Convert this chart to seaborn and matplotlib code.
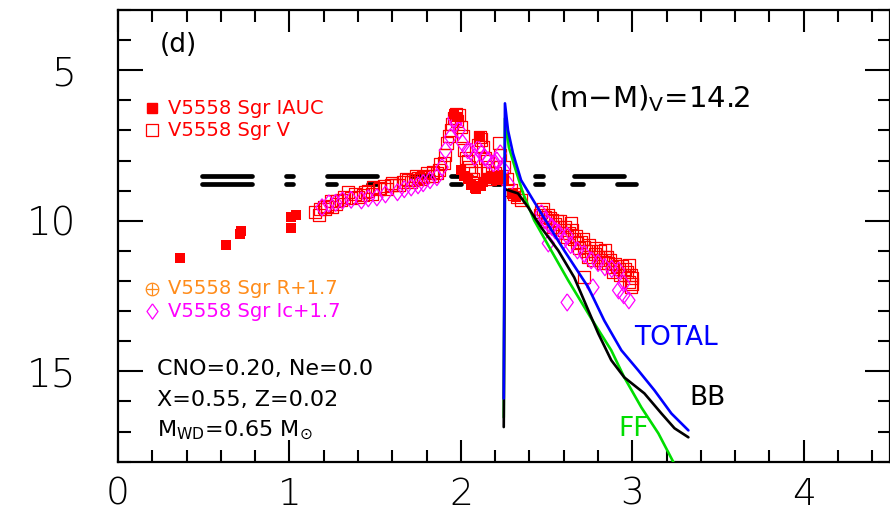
import numpy as np
import pandas as pd
import matplotlib
matplotlib.use("Agg")
import matplotlib.pyplot as plt
import seaborn as sns
from matplotlib.ticker import MultipleLocator

# ---------------- data ----------------
iauc_x = [0.36, 0.63, 0.71, 0.72, 1.01, 1.01, 1.04, 1.96, 1.98, 2.00, 2.02, 2.04, 2.06,
          2.08, 2.09, 2.11, 2.12, 2.13, 2.15, 2.19, 2.21, 2.23, 2.25, 2.30, 2.32]
iauc_y = [11.25, 10.81, 10.45, 10.35, 10.25, 9.88, 9.82, 6.45, 6.55, 8.30, 8.50, 8.60, 8.80,
          8.90, 8.95, 7.20, 8.85, 8.70, 8.60, 8.55, 8.65, 8.50, 8.60, 9.10, 9.20]

v_x = [1.15, 1.18, 1.20, 1.22, 1.24, 1.27, 1.30, 1.34, 1.36, 1.40, 1.43, 1.46, 1.49, 1.52,
       1.55, 1.59, 1.62, 1.66, 1.69, 1.72, 1.75, 1.78, 1.81, 1.84, 1.87, 1.90, 1.91, 1.92,
       1.94, 1.96, 1.97, 1.99, 2.00, 2.02, 2.04, 2.06, 2.09, 2.10, 2.11, 2.13, 2.14, 2.16,
       2.18, 2.19, 2.21, 2.22, 2.23, 2.25,
       1.17, 1.21, 1.25, 1.28, 1.32, 1.38, 1.44, 1.48, 1.53, 1.57, 1.60, 1.64, 1.68, 1.71,
       1.74, 1.77, 1.80, 1.83, 1.86, 1.88, 1.93, 1.95, 1.98, 2.01, 2.03, 2.05, 2.07, 2.08,
       2.12, 2.15, 2.17, 2.20, 2.24,
       2.27, 2.29, 2.31, 2.33, 2.35, 2.47, 2.49, 2.51, 2.53, 2.55, 2.57, 2.58, 2.60, 2.62,
       2.64, 2.66, 2.68, 2.70, 2.72, 2.72, 2.74, 2.76, 2.78, 2.80, 2.82, 2.84, 2.84, 2.86,
       2.88, 2.90, 2.92, 2.95, 2.96, 2.98, 2.98, 2.99, 3.00,
       2.46, 2.48, 2.50, 2.52, 2.54, 2.56, 2.59, 2.61, 2.63, 2.65, 2.67, 2.69, 2.71, 2.73,
       2.75, 2.77, 2.79, 2.81, 2.83, 2.85, 2.87, 2.89, 2.91, 2.93, 2.94, 2.97, 2.99, 3.00]
v_y = [9.72, 9.62, 9.55, 9.50, 9.35, 9.45, 9.30, 9.05, 9.25, 9.20, 9.15, 9.00, 8.89, 8.95,
       8.85, 8.82, 8.80, 8.70, 8.65, 8.65, 8.58, 8.55, 8.50, 8.39, 8.30, 8.09, 7.80, 7.42,
       7.00, 6.60, 6.45, 6.50, 6.90, 7.66, 8.00, 8.32, 8.75, 7.50, 7.22, 7.56, 7.90, 8.22,
       8.40, 8.55, 8.20, 7.42, 7.80, 8.22,
       9.80, 9.60, 9.55, 9.35, 9.20, 9.10, 9.05, 9.10, 8.90, 8.95, 8.75, 8.80, 8.60, 8.72,
       8.50, 8.62, 8.42, 8.50, 8.40, 8.10, 7.20, 6.80, 6.70, 7.20, 7.90, 8.20, 8.60, 8.40,
       7.30, 8.00, 8.60, 8.40, 8.50,
       8.60, 8.99, 9.10, 9.22, 9.30, 9.70, 9.88, 9.80, 9.98, 10.10, 10.22, 10.00, 10.30, 10.55,
       10.08, 10.60, 10.75, 10.70, 10.88, 11.88, 11.21, 11.00, 11.10, 11.20, 11.30, 10.98, 11.21, 11.40,
       11.54, 11.45, 11.60, 11.81, 11.60, 11.48, 12.04, 12.21, 11.90,
       9.80, 9.60, 10.00, 9.90, 10.20, 10.00, 10.40, 10.20, 10.40, 10.30, 10.50, 10.90, 10.60, 11.00,
       10.80, 11.30, 10.90, 11.00, 11.40, 11.20, 11.30, 11.70, 11.50, 11.80, 11.50, 11.70, 11.80, 12.10]

ic_x = [1.19, 1.23, 1.27, 1.31, 1.36, 1.42, 1.46, 1.51, 1.56, 1.63, 1.67, 1.71, 1.75, 1.78,
        1.82, 1.86, 1.89, 1.91, 1.94, 1.96, 1.97, 1.99, 2.01, 2.04, 2.06, 2.08, 2.10, 2.12,
        2.14, 2.16, 2.19, 2.21, 2.23, 2.25,
        2.28, 2.47, 2.49, 2.51, 2.53, 2.55, 2.57, 2.60, 2.62, 2.64, 2.68, 2.72, 2.76, 2.80,
        2.84, 2.88, 2.92, 2.95, 2.51, 2.62, 2.77, 2.92, 2.98, 2.95]
ic_y = [9.55, 9.42, 9.40, 9.32, 9.30, 9.32, 9.25, 9.22, 9.12, 9.05, 8.95, 8.89, 8.82, 8.75,
        8.65, 8.55, 8.22, 7.66, 7.22, 6.60, 6.76, 6.99, 7.42, 7.66, 7.70, 7.89, 7.60, 7.76,
        7.90, 7.99, 8.09, 8.00, 7.76, 8.30,
        8.80, 9.75, 9.98, 10.10, 10.20, 10.32, 10.40, 10.65, 10.50, 10.80, 10.98, 11.10, 11.31, 11.40,
        11.54, 11.60, 11.65, 12.08, 10.75, 12.71, 12.21, 12.31, 12.64, 12.47]

total_x = [2.250, 2.257, 2.275, 2.304, 2.351, 2.468, 2.602, 2.743, 2.836, 2.936, 3.035, 3.129, 3.228, 3.327]
total_y = [15.90, 6.10, 7.00, 7.76, 8.65, 9.75, 10.98, 12.21, 13.31, 14.30, 14.97, 15.63, 16.40, 16.96]

bb_x = [2.250, 2.257, 2.333, 2.392, 2.468, 2.567, 2.661, 2.743, 2.801, 2.877, 2.953, 3.070, 3.170, 3.246, 3.327]
bb_y = [16.85, 8.95, 9.09, 9.55, 10.22, 10.98, 11.88, 12.97, 13.74, 14.63, 15.20, 15.73, 16.40, 16.89, 17.19]

ff_x = [2.250, 2.257, 2.280, 2.320, 2.363, 2.427, 2.526, 2.626, 2.760, 2.877, 2.953, 3.053, 3.152, 3.240]
ff_y = [16.53, 6.60, 7.56, 8.32, 9.09, 9.98, 10.98, 11.98, 13.24, 14.30, 15.20, 16.20, 17.06, 18.02]

# observing-period dashes: (x start, x end) at two magnitude levels
dash_top_y = 8.52
dash_top_x0 = [0.49, 0.98, 1.22, 1.71, 1.94, 2.43, 2.66]
dash_top_x1 = [0.78, 1.02, 1.51, 1.84, 2.06, 2.48, 2.95]
dash_bot_y = 8.79
dash_bot_x0 = [0.49, 0.98, 1.22, 1.46, 1.94, 2.19, 2.43, 2.65, 2.91]
dash_bot_x1 = [0.78, 1.02, 1.27, 1.51, 2.00, 2.23, 2.48, 2.71, 3.02]

x_ticks = [0, 1, 2, 3, 4]
y_ticks = [5, 10, 15]

# ---------------- figure ----------------
sns.set_theme(style="ticks")
plt.rcParams['font.family'] = ['DejaVu Sans']
plt.rcParams['mathtext.default'] = 'regular'
plt.rcParams['text.color'] = 'black'
plt.rcParams['xtick.color'] = 'black'
plt.rcParams['ytick.color'] = 'black'
plt.rcParams['axes.labelcolor'] = 'black'

fig = plt.figure(figsize=(8.9, 5.23), dpi=100)
ax = fig.add_axes([118/890, 1 - 461.7/523, (889.5 - 118)/890, (461.7 - 10)/523])

RED = '#ff0000'
MAG = '#ff00ff'
ORG = '#ff8c1a'
BLUE = '#0000ff'
GREEN = '#00dd00'

# dashes
for x0, x1 in zip(dash_top_x0, dash_top_x1):
    sns.lineplot(x=[x0, x1], y=[dash_top_y, dash_top_y], ax=ax, color='black', lw=3.4,
                 solid_capstyle='round', sort=False, estimator=None)
for x0, x1 in zip(dash_bot_x0, dash_bot_x1):
    sns.lineplot(x=[x0, x1], y=[dash_bot_y, dash_bot_y], ax=ax, color='black', lw=3.4,
                 solid_capstyle='round', sort=False, estimator=None)

diamond = [(0, 1.0), (0.72, 0), (0, -1.0), (-0.72, 0), (0, 1.0)]

sns.scatterplot(x=v_x, y=v_y, ax=ax, marker='s', s=75, facecolor='none',
                edgecolor=RED, linewidth=0.9, zorder=3)
sns.scatterplot(x=ic_x, y=ic_y, ax=ax, marker=diamond, s=150, facecolor='none',
                edgecolor=MAG, linewidth=0.9, zorder=3)
sns.scatterplot(x=iauc_x, y=iauc_y, ax=ax, marker='s', s=42, color=RED,
                edgecolor=RED, linewidth=0, zorder=4)

# model curves
sns.lineplot(x=ff_x, y=ff_y, ax=ax, color=GREEN, lw=1.9, sort=False, estimator=None, zorder=5)
sns.lineplot(x=bb_x, y=bb_y, ax=ax, color='black', lw=1.9, sort=False, estimator=None, zorder=5)
sns.lineplot(x=total_x, y=total_y, ax=ax, color=BLUE, lw=1.9, sort=False, estimator=None, zorder=6)

ax.set_xlim(0, 4.5)
ax.set_ylim(18, 3)
ax.set_xlabel('')
ax.set_ylabel('')

ax.xaxis.set_major_locator(MultipleLocator(1))
ax.xaxis.set_minor_locator(MultipleLocator(0.2))
ax.yaxis.set_major_locator(MultipleLocator(5))
ax.yaxis.set_minor_locator(MultipleLocator(1))
ax.set_xticks(x_ticks)
ax.set_yticks(y_ticks)
ax.set_xticklabels([str(t) for t in x_ticks])
ax.set_yticklabels([str(t) for t in y_ticks])

for sp in ax.spines.values():
    sp.set_visible(True)
    sp.set_linewidth(1.6)
    sp.set_color('black')

ax.tick_params(which='both', direction='in', top=True, right=True, color='black', width=1.5)
ax.tick_params(axis='x', which='major', length=16, pad=11, labelsize=27)
ax.tick_params(axis='x', which='minor', length=8.5)
ax.tick_params(axis='y', which='major', length=18, pad=30, labelsize=28)
ax.tick_params(axis='y', which='minor', length=9)
for lab in ax.get_xticklabels() + ax.get_yticklabels():
    lab.set_fontweight('light')
    lab.set_color('black')

# annotations
ax.text(0.245, 4.17, '(d)', fontsize=19, va='center', ha='left', color='black')
ax.text(2.51, 5.93, '(m$-$M)$_{V}$=14.2', fontsize=21, va='center', ha='left', color='black')

lx = 0.20
ax.plot([lx], [6.26], marker='s', ms=6.5, color=RED, mec=RED, ls='none')
ax.text(0.29, 6.26, 'V5558 Sgr IAUC', fontsize=14, color=RED, va='center', ha='left')
ax.plot([lx], [6.99], marker='s', ms=8, mfc='none', mec=RED, mew=0.9, ls='none')
ax.text(0.29, 6.99, 'V5558 Sgr V', fontsize=14, color=RED, va='center', ha='left')
ax.plot([lx], [12.26], marker='o', ms=9, mfc='none', mec=ORG, mew=0.9, ls='none')
ax.plot([lx], [12.26], marker='+', ms=9, mec=ORG, mew=0.9, ls='none')
ax.text(0.29, 12.26, 'V5558 Sgr R+1.7', fontsize=14, color=ORG, va='center', ha='left')
ax.plot([lx], [13.0], marker=diamond, ms=11, mfc='none', mec=MAG, mew=0.9, ls='none')
ax.text(0.29, 13.0, 'V5558 Sgr Ic+1.7', fontsize=14, color=MAG, va='center', ha='left')

ax.text(3.01, 13.9, 'TOTAL', fontsize=19, color=BLUE, va='center', ha='left')
ax.text(3.33, 15.9, 'BB', fontsize=19, color='black', va='center', ha='left')
ax.text(2.92, 16.9, 'FF', fontsize=19, color=GREEN, va='center', ha='left')

ax.text(0.228, 14.93, 'CNO=0.20, Ne=0.0', fontsize=16, va='center', ha='left', color='black')
ax.text(0.228, 15.96, 'X=0.55, Z=0.02', fontsize=16, va='center', ha='left', color='black')
ax.text(0.228, 16.95, 'M$_{WD}$=0.65 M$_{\\odot}$', fontsize=16, va='center', ha='left', color='black')

fig.savefig('out.png', dpi=100)
